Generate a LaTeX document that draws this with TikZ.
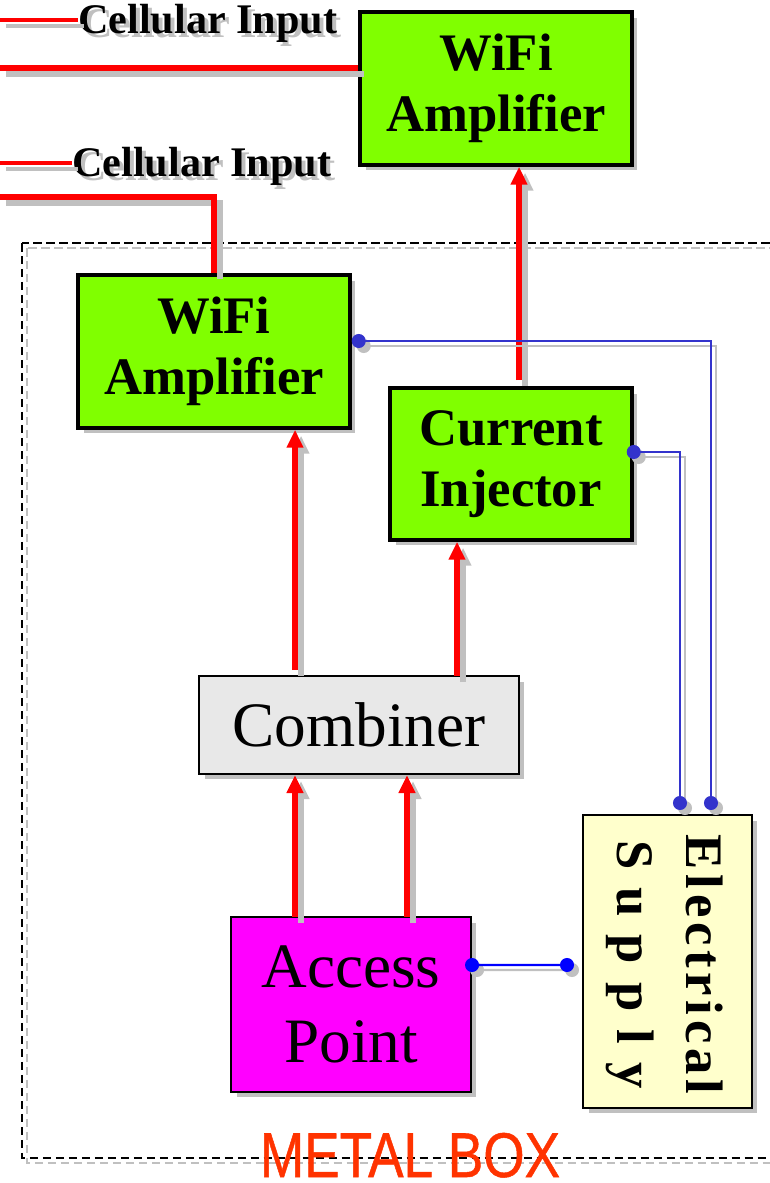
\documentclass[tikz,border=0pt]{standalone}
\usepackage{fontspec}
\setmainfont{Liberation Serif}
\setsansfont{Liberation Sans}
\usetikzlibrary{arrows.meta,shadows}
\definecolor{ampgreen}{HTML}{80FF00}
\definecolor{apmagenta}{HTML}{FF00FF}
\definecolor{combgray}{HTML}{E8E8E8}
\definecolor{supplyyellow}{HTML}{FFFFCC}
\definecolor{shadowgray}{HTML}{C0C0C0}
\definecolor{cablered}{HTML}{FF0000}
\definecolor{powerblue}{HTML}{3333CC}
\definecolor{boxlabel}{HTML}{FF3300}

\begin{document}
\begin{tikzpicture}[x=0.02cm,y=-0.02cm,
  >={Triangle[length=3.6mm,width=3.2mm]},
  unit/.style={draw=black,line width=1.2pt,align=center,inner sep=0pt,
    drop shadow={shadow xshift=0.11cm,shadow yshift=-0.11cm,fill=shadowgray,opacity=1}},
  amp/.style={unit,fill=ampgreen,line width=2pt,minimum width=5.44cm,minimum height=3.06cm,
    font=\fontsize{30}{35}\selectfont\bfseries},
  cable/.style={draw=cablered,line width=#1,
    preaction={draw=shadowgray,line width=#1,transform canvas={shift={(0.12cm,-0.12cm)}}}},
  cable/.default=3.4pt,
  feedarrow/.style={draw=cablered,line width=3.4pt,->,
    preaction={draw=shadowgray,line width=3.4pt,->,transform canvas={shift={(0.12cm,-0.12cm)}}}},
  power/.style={draw=#1,line width=1.2pt,{Circle[length=2.8mm]}-{Circle[length=2.8mm]},
    preaction={draw=shadowgray,line width=1.2pt,{Circle[length=2.8mm]}-{Circle[length=2.8mm]},
      transform canvas={shift={(0.1cm,-0.1cm)}}}},
  power/.default=powerblue,
  inputtext/.style={inner sep=0pt,anchor=base west,font=\fontsize{24}{24}\selectfont\bfseries},
  boxline/.style={line width=0.9pt,dash pattern=on 0.17cm off 0.09cm},
]
\clip (0,0) rectangle (770,1183);
\draw[boxline,shadowgray] (27,248) rectangle (800,1163);
\draw[boxline] (22,243) rectangle (800,1158);
\node[font=\fontsize{36}{36}\selectfont\sffamily\addfontfeature{FakeBold=0.8},text=boxlabel,xscale=0.84,anchor=base,inner sep=0pt] (metalbox) at (410,1177) {METAL BOX};

\node[amp] (amptop) at (496,88.5) {WiFi\\Amplifier};
\node[amp] (amplow) at (214,351.5) {WiFi\\Amplifier};
\node[amp,minimum width=4.84cm,minimum height=3.04cm] (injector) at (511,464) {Current\\Injector};
\node[unit,fill=combgray,minimum width=6.4cm,minimum height=1.96cm,font=\fontsize{36}{43}\selectfont] (combiner) at (359,725) {Combiner};
\node[unit,fill=apmagenta,minimum width=4.8cm,minimum height=3.5cm,font=\fontsize{36}{42.5}\selectfont] (ap) at (351,1004.5) {Access\\Point};
\node[unit,fill=supplyyellow,minimum width=3.38cm,minimum height=5.86cm] (supply) at (667.5,961.5) {};
\node[rotate=-90,align=center,inner sep=0pt,font=\fontsize{30}{39}\selectfont\bfseries\addfontfeature{LetterSpace=9}] (supplytext) at ([xshift=-0.06cm,yshift=-0.06cm]supply.center) {Electrical\\S u p p l y};

\node[inputtext,text=shadowgray] (cell1shade) at (82,37) {Cellular Input};
\node[inputtext] (cell1) at (78,33) {Cellular Input};
\node[inputtext,text=shadowgray] (cell2shade) at (76,180) {Cellular Input};
\node[inputtext] (cell2) at (72,176) {Cellular Input};

\coordinate (lead1) at (0,20);
\coordinate (feed1) at (0,68);
\coordinate (lead2) at (0,163);
\coordinate (feed2) at (0,197);
\draw[cable=2.8pt] (lead1) -- (lead1 -| cell1.west);
\draw[cable] (feed1) -- (feed1 -| amptop.west);
\draw[cable=2.8pt] (lead2) -- (lead2 -| cell2.west);
\draw[cable] (feed2) -| (amplow.north);

\coordinate (injout) at (519,380);
\coordinate (combout1) at (295,670);
\coordinate (combout2) at (457,676);
\draw[feedarrow] (injout) -- (injout |- amptop.south);
\draw[feedarrow] (combout1) -- (combout1 |- amplow.south);
\draw[feedarrow] (combout2) -- (combout2 |- injector.south);
\foreach \x/\n in {295/1,407/2}{
  \coordinate (apout\n) at (\x,917);
  \draw[feedarrow] (apout\n) -- (apout\n |- combiner.south);
}

\coordinate (pwr1) at (711,810);
\coordinate (pwr2) at (680,810);
\coordinate (pwr3) at (574,965);
\draw[power] ([yshift=0.21cm]amplow.east) -| (pwr1);
\draw[power,shorten <=-0.14cm] ([yshift=0.24cm]injector.east) -| (pwr2);
\draw[power=blue,shorten <=-0.14cm] ([yshift=0.79cm]ap.east) -- (pwr3);
\end{tikzpicture}
\end{document}
